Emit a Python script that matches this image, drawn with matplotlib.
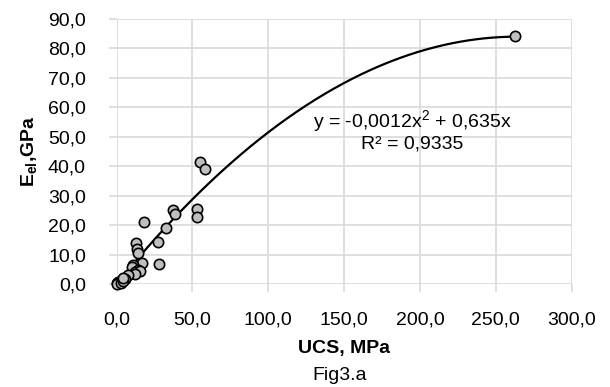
import numpy as np
import matplotlib.pyplot as plt

# UCS (MPa) vs elastic modulus (GPa)
ucs = [54.8, 58.1, 53.1, 53.1, 37.3, 38.8, 18.2, 32.5, 27.4, 12.7, 13.6, 14.2,
       28.1, 17.1, 11.2, 10.3, 14.2, 12.5, 15.3, 12.0, 7.7, 5.5, 3.3, 1.1,
       0.5, 2.0, 1.5, 0.2, 2.8, 4.5, 4.0, 263.0]
e_el = [41.6, 39.1, 25.4, 22.6, 25.1, 23.7, 21.0, 18.9, 14.4, 14.0, 11.8, 10.6,
        6.8, 7.2, 6.6, 5.7, 4.8, 4.2, 4.5, 3.4, 3.1, 1.6, 1.4, 0.8,
        0.3, 0.6, 0.2, 0.0, 0.5, 1.0, 2.0, 84.2]

# trendline coefficients
a2, a1 = -0.0012, 0.635
eq_text = "y = -0,0012x$^2$ + 0,635x\nR² = 0,9335"

xticks = [0, 50, 100, 150, 200, 250, 300]
yticks = [0, 10, 20, 30, 40, 50, 60, 70, 80, 90]

plt.rcParams['font.family'] = ['Liberation Sans', 'DejaVu Sans']
plt.rcParams['mathtext.fontset'] = 'custom'
plt.rcParams['mathtext.rm'] = 'Liberation Sans'
plt.rcParams['mathtext.bf'] = 'Liberation Sans:bold'

fig = plt.figure(figsize=(6.1, 3.87), dpi=100)
ax = fig.add_axes([0.191, 0.266, 0.746, 0.685])

grid_c = '#d9d9d9'
fs = 14
ax.set_xlim(0, 300)
ax.set_ylim(0, 90)
ax.set_xticks(xticks)
ax.set_yticks(yticks)
ax.set_xticklabels([f"{v:.1f}".replace('.', ',') for v in xticks])
ax.set_yticklabels([f"{v:.1f}".replace('.', ',') for v in yticks])
ax.grid(True, color=grid_c, linewidth=1.2)
ax.set_axisbelow(True)
for s in ax.spines.values():
    s.set_visible(False)
ax.tick_params(axis='both', colors=grid_c, length=6, width=1.2, labelsize=fs,
               labelcolor='black')
ax.tick_params(axis='x', pad=14)
ax.tick_params(axis='y', pad=16)

xs = np.linspace(0, max(ucs), 300)
ax.plot(xs, a2 * xs**2 + a1 * xs, color='black', linewidth=1.6, zorder=2)
ax.scatter(ucs, e_el, s=55, facecolor='#bfbfbf', edgecolor='black',
           linewidth=1.2, zorder=3, clip_on=False)

ax.text(195, 52.2, eq_text, ha='center', va='center', fontsize=fs,
        linespacing=1.0)

ax.set_xlabel('UCS, MPa', fontsize=fs, fontweight='bold', labelpad=8)
ax.set_ylabel(r'E$_{\mathbf{el}}$,GPa', fontsize=fs, fontweight='bold', labelpad=6)
fig.text(0.557, 0.03, 'Fig3.a', ha='center', va='center', fontsize=fs)

fig.savefig('out.png', dpi=100)
